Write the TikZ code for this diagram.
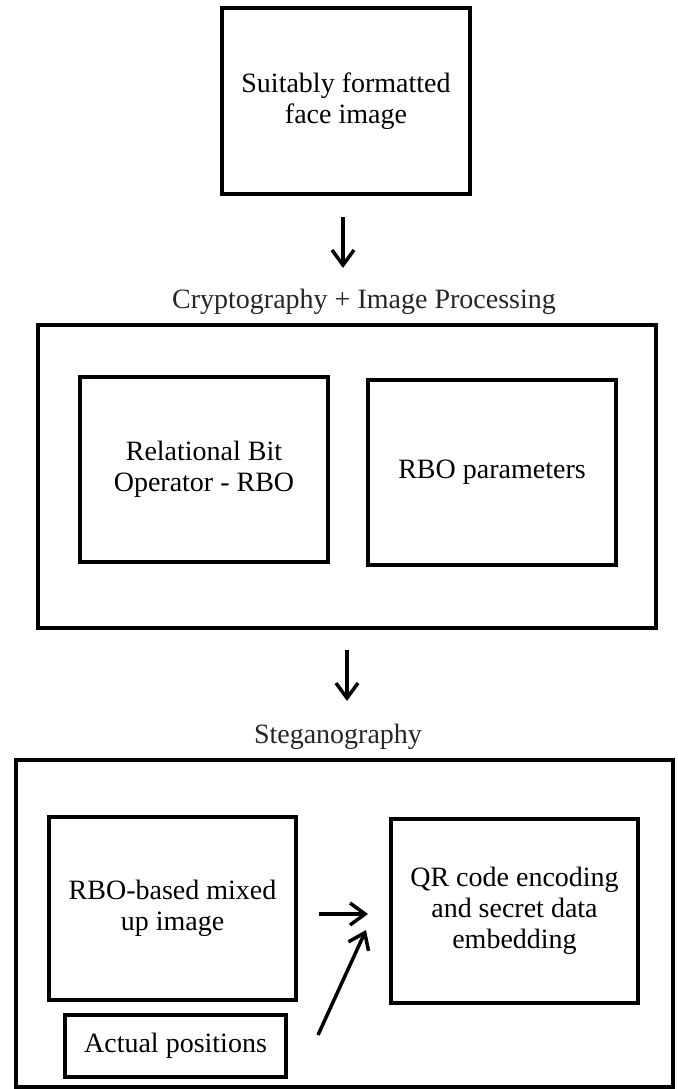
\documentclass[tikz,border=0pt]{standalone}
\usepackage{fontspec}
\setmainfont{Liberation Serif}
\usetikzlibrary{arrows.meta}
\begin{document}
\begin{tikzpicture}[x=1pt,y=-1pt,
  every node/.style={font=\fontsize{28}{31}\selectfont, align=center, inner sep=0pt},
  box/.style={draw, line width=4pt, rectangle},
  flow/.style={line width=3.5pt, -{Straight Barb[length=15pt,width=22pt]}},
  caption/.style={text=black!85}]
\useasboundingbox (0,0) rectangle (677,1089);

% input image
\node[box, minimum width=248pt, minimum height=186pt] (face) at (346,101)
  {Suitably formatted\\face image};

% cryptography stage
\node[caption] (cryptotitle) at (364,302) {Cryptography + Image Processing};
\node[box, minimum width=618pt, minimum height=303pt] (crypto) at (347,476.5) {};
\node[box, minimum width=248pt, minimum height=185pt] (rbo) at (204,469.5)
  {Relational Bit\\Operator - RBO};
\node[box, minimum width=248pt, minimum height=185pt] (params) at (492,472.5)
  {RBO parameters};

% steganography stage
\node[caption] (stegtitle) at (338,737) {Steganography};
\node[box, minimum width=657pt, minimum height=327pt] (steg) at (344.5,923.5) {};
\node[box, minimum width=247pt, minimum height=183pt] (mixed) at (172.5,908.5)
  {RBO-based mixed\\up image};
\node[box, minimum width=247pt, minimum height=184pt] (qr) at (514.5,911)
  {QR code encoding\\and secret data\\embedding};
\node[box, minimum width=221pt, minimum height=62pt] (actual) at (175.5,1046)
  {Actual positions};

% connectors
\draw[flow, shorten <=21pt, shorten >=55pt] ([xshift=-3pt]face.south) -- ([xshift=-3pt]face.south |- crypto.north);
\draw[flow, shorten <=20pt, shorten >=57pt] (crypto.south) -- (crypto.south |- steg.north);
\draw[flow, shorten <=21pt, shorten >=21pt] ([yshift=-5.5pt]mixed.east) -- ([yshift=-5.5pt]mixed.east -| qr.west);
\coordinate (posout) at (318,1035);
\coordinate (qrin) at (366,930);
\draw[flow] (posout) -- (qrin);
\end{tikzpicture}
\end{document}
